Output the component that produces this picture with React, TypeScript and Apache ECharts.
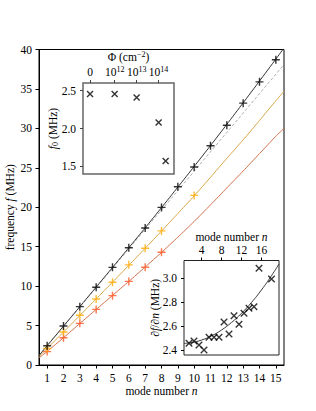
import React, { useEffect, useRef } from 'react';
import * as echarts from 'echarts';

const FONT = '"Liberation Serif", "DejaVu Serif", serif';
const FS = 11.5;

// Main panel: measured mode frequencies
const modeN = [1, 2, 3, 4, 5, 6, 7, 8, 9, 10, 11, 12, 13, 14, 15];
const blackF = [2.45, 4.94, 7.4, 9.85, 12.38, 14.87, 17.36, 19.98, 22.6, 25.1, 27.8, 30.4, 33.2, 35.9, 38.7];
const orangeN = [1, 2, 3, 4, 5, 6, 7, 8, 10];
const orangeF = [2.1, 4.18, 6.3, 8.36, 10.5, 12.7, 14.8, 17.0, 21.5];
const redN = [1, 2, 3, 4, 5, 6, 7, 8];
const redF = [1.7, 3.46, 5.28, 7.05, 8.79, 10.6, 12.4, 14.3];

// Fitted curves
const fitN = [0.5, 1, 2, 3, 4, 5, 6, 7, 8, 9, 10, 11, 12, 13, 14, 15, 15.5];
const blackFit = [1.2, 2.45, 4.93, 7.4, 9.88, 12.37, 14.87, 17.39, 19.95, 22.55, 25.17, 27.82, 30.51, 33.24, 36.0, 38.78, 40.2];
const orangeFit = [1.05, 2.1, 4.18, 6.28, 8.38, 10.5, 12.64, 14.8, 16.98, 19.2, 21.45, 23.8, 26.2, 28.55, 31.0, 33.5, 34.7];
const redFit = [0.9, 1.72, 3.46, 5.26, 7.04, 8.82, 10.6, 12.42, 14.27, 16.2, 18.2, 20.3, 22.45, 24.6, 26.8, 29.0, 30.0];
const grayN = [0.5, 15.5];
const grayFit = [1.2, 38.1];

// Inset 1: f0 vs fluence (axis position = log10 of fluence, "0" placed left of 10^12)
const phiTicks = [10.88, 12, 13, 14];
const phiTickLabels = ['0', '12', '13', '14'];
const phiPos = [10.88, 12, 13, 14, 14.32];
const f0 = [2.456, 2.456, 2.41, 2.08, 1.57];

// Inset 2: derivative
const dN = [1.5, 2.5, 3.5, 4.5, 5.5, 6.5, 7.5, 8.5, 9.5, 10.5, 11.5, 12.5, 13.5, 14.5, 15.5, 18];
const dF = [2.456, 2.475, 2.442, 2.4, 2.506, 2.506, 2.506, 2.634, 2.534, 2.687, 2.615, 2.707, 2.749, 2.762, 3.084, 2.994];
const dFitN = [0.5, 2, 4, 6, 8, 10, 12, 14, 16, 18, 19.5];
const dFit = [2.455, 2.462, 2.483, 2.518, 2.567, 2.63, 2.707, 2.798, 2.903, 3.022, 3.12];

const zip = (a: number[], b: number[]) => a.map((v, i) => [v, b[i]]);

const PLUS = 'path://M4 0V8M0 4H8';
const CROSS = 'path://M0 0L8 8M8 0L0 8';

const txt = { color: '#000', fontFamily: FONT, fontSize: FS };
const rich = {
  i: { fontStyle: 'italic', fontFamily: FONT, fontSize: FS, color: '#000' },
  sub: { fontStyle: 'normal', fontFamily: FONT, fontSize: 8, color: '#000', verticalAlign: 'bottom', padding: [5, 0, 0, 0] },
  sup: { fontFamily: FONT, fontSize: 8, color: '#000', verticalAlign: 'top', padding: [0, 0, 5, 0] },
  n: { fontFamily: FONT, fontSize: FS, color: '#000' },
};

const option: any = {
  animation: false,
  backgroundColor: '#fff',
  textStyle: { fontFamily: FONT },
  grid: [
    { left: 39, top: 49.5, width: 245, height: 315.5, show: true, borderColor: '#000', borderWidth: 1, backgroundColor: 'transparent', containLabel: false, outerBoundsMode: 'none' },
    { left: 83, top: 83, width: 91, height: 91, show: true, borderColor: '#666', borderWidth: 1.5, backgroundColor: '#fff', containLabel: false, outerBoundsMode: 'none' },
    { left: 184, top: 260.5, width: 95, height: 94.5, show: true, borderColor: '#222', borderWidth: 1, backgroundColor: '#fff', containLabel: false, outerBoundsMode: 'none' },
  ],
  xAxis: [
    {
      type: 'value', gridIndex: 0, min: 0.5, max: 15.5,
      axisLine: { show: true, lineStyle: { color: '#000', width: 1 } },
      axisTick: { show: true, customValues: modeN, length: 3.5, inside: false, lineStyle: { color: '#000', width: 1 } },
      axisLabel: { customValues: modeN, margin: 7, ...txt },
      splitLine: { show: false },
      name: 'mode number {i|n}', nameLocation: 'middle', nameGap: 20, nameMoveOverlap: false,
      nameTextStyle: { ...txt, rich },
    },
    {
      type: 'value', gridIndex: 1, position: 'top', min: 10.56, max: 14.7,
      axisLine: { show: false },
      axisTick: { show: true, customValues: phiTicks, length: 3, inside: false, lineStyle: { color: '#444', width: 1 } },
      axisLabel: {
        customValues: phiTicks, margin: 5, ...txt,
        formatter: (v: number) => {
          const idx = phiTicks.findIndex((t) => Math.abs(t - v) < 1e-6);
          const l = phiTickLabels[idx];
          return l === '0' ? '{n|0}' : '{n|10}{sup|' + l + '}';
        },
        rich,
      },
      splitLine: { show: false },
      name: 'Φ (cm{sup|−2})', nameLocation: 'middle', nameGap: 20, nameMoveOverlap: false,
      nameTextStyle: { ...txt, rich },
    },
    {
      type: 'value', gridIndex: 2, position: 'top', min: 0.5, max: 19.5,
      axisLine: { show: false },
      axisTick: { show: true, customValues: [4, 8, 12, 16], length: 3, inside: false, lineStyle: { color: '#000', width: 1 } },
      axisLabel: { customValues: [4, 8, 12, 16], margin: 5, ...txt },
      splitLine: { show: false },
      name: 'mode number {i|n}', nameLocation: 'middle', nameGap: 18, nameMoveOverlap: false,
      nameTextStyle: { ...txt, rich },
    },
  ],
  yAxis: [
    {
      type: 'value', gridIndex: 0, min: 0, max: 40, interval: 5,
      axisLine: { show: true, lineStyle: { color: '#000', width: 1 } },
      axisTick: { show: true, length: 3.5, inside: false, lineStyle: { color: '#000', width: 1 } },
      axisLabel: { margin: 7, ...txt },
      splitLine: { show: false },
      name: 'frequency {i|f} (MHz)', nameLocation: 'middle', nameGap: 23, nameRotate: 90, nameMoveOverlap: false,
      nameTextStyle: { ...txt, rich },
    },
    {
      type: 'value', gridIndex: 1, min: 1.4, max: 2.6,
      axisLine: { show: false },
      axisTick: { show: true, customValues: [1.5, 2.0, 2.5], length: 3, inside: false, lineStyle: { color: '#444', width: 1 } },
      axisLabel: { customValues: [1.5, 2.0, 2.5], margin: 7, ...txt, formatter: (v: number) => v.toFixed(1) },
      splitLine: { show: false },
      name: '{i|f}{sub|0} (MHz)', nameLocation: 'middle', nameGap: 24, nameRotate: 90, nameMoveOverlap: false,
      nameTextStyle: { ...txt, rich },
    },
    {
      type: 'value', gridIndex: 2, min: 2.358, max: 3.149,
      axisLine: { show: false },
      axisTick: { show: true, customValues: [2.4, 2.6, 2.8, 3.0], length: 3, inside: false, lineStyle: { color: '#000', width: 1 } },
      axisLabel: { customValues: [2.4, 2.6, 2.8, 3.0], margin: 7, ...txt, formatter: (v: number) => v.toFixed(1) },
      splitLine: { show: false },
      name: '{i|∂f}/{i|∂n} (MHz)', nameLocation: 'middle', nameGap: 23, nameRotate: 90, nameMoveOverlap: false,
      nameTextStyle: { ...txt, rich },
    },
  ],
  series: [
    { type: 'line', xAxisIndex: 0, yAxisIndex: 0, data: zip(grayN, grayFit), symbol: 'none', lineStyle: { color: '#999', width: 0.8, type: [3, 2] }, z: 1, silent: true },
    { type: 'line', xAxisIndex: 0, yAxisIndex: 0, data: zip(fitN, redFit), symbol: 'none', smooth: 0.2, lineStyle: { color: '#d2704a', width: 1 }, z: 1 },
    { type: 'line', xAxisIndex: 0, yAxisIndex: 0, data: zip(fitN, orangeFit), symbol: 'none', smooth: 0.2, lineStyle: { color: '#d8a645', width: 1 }, z: 1 },
    { type: 'line', xAxisIndex: 0, yAxisIndex: 0, data: zip(fitN, blackFit), symbol: 'none', smooth: 0.2, lineStyle: { color: '#333', width: 1 }, z: 1 },
    { type: 'scatter', xAxisIndex: 0, yAxisIndex: 0, data: zip(redN, redF), symbol: PLUS, symbolSize: 8, itemStyle: { color: 'none', borderColor: '#ff5522', borderWidth: 1.4 }, z: 3 },
    { type: 'scatter', xAxisIndex: 0, yAxisIndex: 0, data: zip(orangeN, orangeF), symbol: PLUS, symbolSize: 8, itemStyle: { color: 'none', borderColor: '#ffaa00', borderWidth: 1.4 }, z: 3 },
    { type: 'scatter', xAxisIndex: 0, yAxisIndex: 0, data: zip(modeN, blackF), symbol: PLUS, symbolSize: 8, itemStyle: { color: 'none', borderColor: '#000', borderWidth: 1.4 }, z: 3 },
    { type: 'scatter', xAxisIndex: 1, yAxisIndex: 1, data: zip(phiPos, f0), symbol: CROSS, symbolSize: 6, itemStyle: { color: 'none', borderColor: '#000', borderWidth: 1.4 }, z: 6 },
    { type: 'line', xAxisIndex: 2, yAxisIndex: 2, data: zip(dFitN, dFit), symbol: 'none', smooth: true, lineStyle: { color: '#222', width: 0.9 }, z: 6 },
    { type: 'scatter', xAxisIndex: 2, yAxisIndex: 2, data: zip(dN, dF), symbol: CROSS, symbolSize: 6.5, itemStyle: { color: 'none', borderColor: '#000', borderWidth: 1.4 }, z: 7 },
  ],
};

export default function App() {
  const ref = useRef<HTMLDivElement>(null);
  useEffect(() => {
    const chart = echarts.init(ref.current!, null, { renderer: 'svg' });
    chart.setOption(option);
    return () => chart.dispose();
  }, []);
  return (
    <div
      ref={ref}
      style={{ position: 'fixed', left: 0, top: 0, width: 316, height: 411, background: '#fff' }}
    />
  );
}
